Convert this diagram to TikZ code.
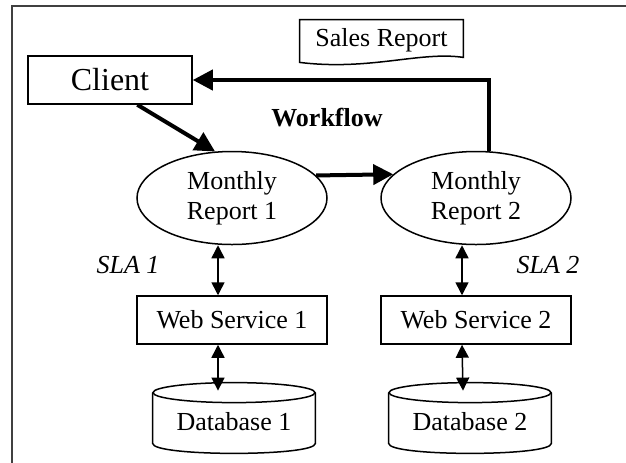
\documentclass[tikz,border=0pt]{standalone}
\usepackage{fontspec}
\setmainfont{Liberation Serif}
\usetikzlibrary{shapes.geometric,arrows.meta,calc}

\tikzset{
  every node/.style={font=\fontsize{13pt}{15pt}\selectfont},
  box/.style={draw, line width=0.75pt, minimum width=95pt, minimum height=24pt, inner sep=0pt},
  task/.style={draw, ellipse, line width=0.75pt, minimum width=95pt, minimum height=46.5pt,
               inner sep=0pt, align=center},
  store/.style={minimum width=81pt, minimum height=31pt, inner sep=0pt, yshift=-2pt},
  docbox/.style={minimum width=81.5pt, minimum height=20pt, inner sep=0pt},
  flow/.style={line width=2pt, -{Triangle[length=10pt,width=10pt]}},
  link/.style={line width=0.75pt, {Triangle[length=6.5pt,width=6.5pt]}-{Triangle[length=6.5pt,width=6.5pt]}},
  outline/.style={line width=0.75pt},
  slalabel/.style={font=\fontsize{13pt}{15pt}\selectfont\itshape},
}

\begin{document}
\begin{tikzpicture}[x=0.5pt,y=-0.5pt]
  \useasboundingbox (0,0) rectangle (626,462);
  % outer frame
  \draw[black!75, line width=1.25pt] (12,6) rectangle (700,560);

  % nodes
  \node[box, minimum width=82pt, font=\fontsize{16pt}{18pt}\selectfont] (client) at (110,80) {Client};
  \node[docbox] (sales) at (381.5,40) {Sales Report};
  \node[font=\fontsize{13pt}{15pt}\selectfont\bfseries] (wf) at (327,118) {Workflow};
  \node[task] (mr1) at (232,198) {Monthly\\Report 1};
  \node[task] (mr2) at (476,198) {Monthly\\Report 2};
  \node[box] (ws1) at (232,320) {Web Service 1};
  \node[box] (ws2) at (476,320) {Web Service 2};
  \node[store] (db1) at (234,418) {Database 1};
  \node[store] (db2) at (470,418) {Database 2};
  \node[slalabel] (sla1) at (128,265) {SLA 1};
  \node[slalabel] (sla2) at (548,265) {SLA 2};

  % document outline with wavy bottom
  \draw[outline] (sales.north west) -- (sales.north east) -- ($(sales.south east)+(0,-3)$)
    .. controls (420,51) and (370,71) .. ($(sales.south west)+(0,2)$) -- cycle;

  % database cylinders
  \foreach \d in {db1,db2}{
    \draw[outline] ($(\d.north)+(0,2)$) ellipse [x radius=40.5pt, y radius=5pt];
    \draw[outline] ($(\d.north west)+(0,2)$) -- ($(\d.south west)+(0,-10)$)
      .. controls +(0,13.3) and +(0,13.3) .. ($(\d.south east)+(0,-10)$)
      -- ($(\d.north east)+(0,2)$);
  }

  % workflow arrows
  \draw[flow] ($(client.south west)!0.665!(client.south east)$) -- (mr1.110);
  \draw[flow] (mr1.15.6) -- (mr2.164.4);
  \draw[flow, line join=miter] (mr2.74.2) |- (client.east);

  % service links
  \draw[link] ([xshift=-7pt]mr1.south) -- ([xshift=-7pt]ws1.north);
  \draw[link] ([xshift=-7pt]mr2.south) -- ([xshift=-7pt]ws2.north);
  \draw[link] ([xshift=-7pt]ws1.south) -- ([xshift=-8pt]db1.north);
  \draw[link] ([xshift=-7pt]ws2.south) -- ([xshift=-3.5pt]db2.north);
\end{tikzpicture}
\end{document}
